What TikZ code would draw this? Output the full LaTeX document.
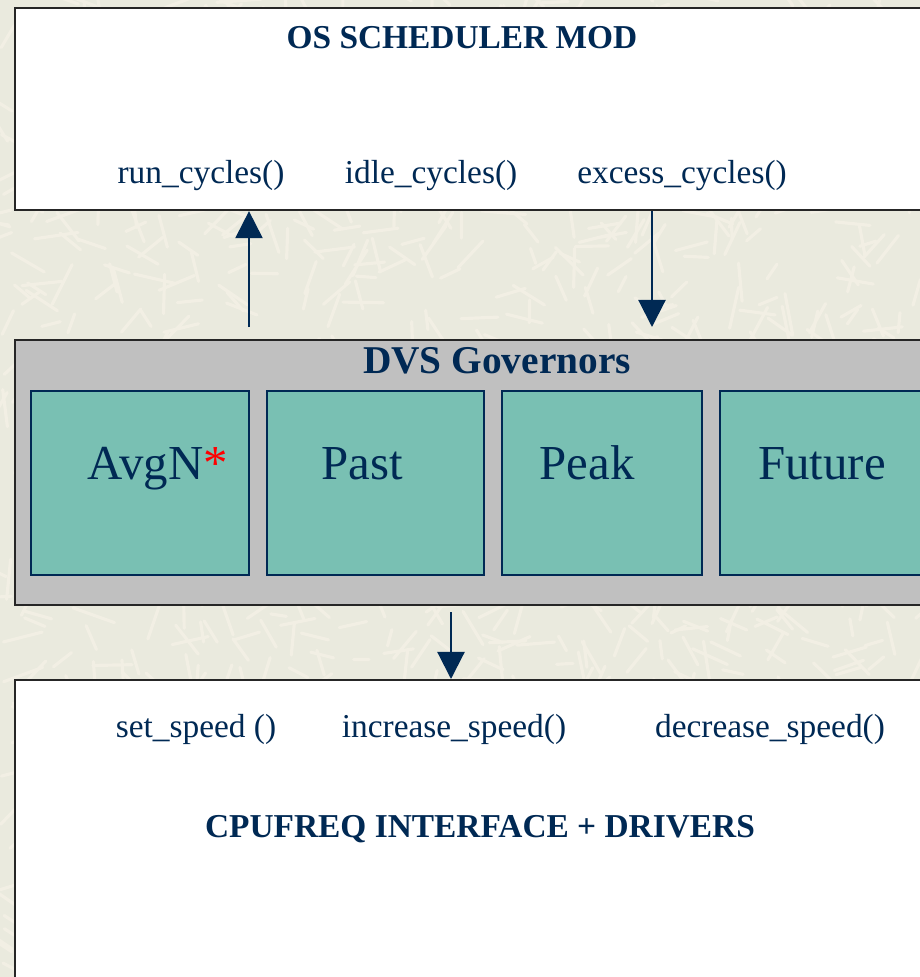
\documentclass[tikz,border=0pt]{standalone}
\usepackage{fontspec}
\setmainfont{Liberation Serif}
\usetikzlibrary{arrows.meta,positioning}
\definecolor{navy}{RGB}{0,41,84}
\definecolor{paper}{RGB}{234,234,222}
\definecolor{fibre}{RGB}{242,239,228}
\definecolor{govgray}{RGB}{192,192,192}
\definecolor{govteal}{RGB}{121,192,179}

\begin{document}
\begin{tikzpicture}[
            x=0.1mm, y=-0.1mm,
            grain/.style={draw=fibre, line width=0.9pt, line cap=round},
            layer/.style={draw=black!85, line width=0.6pt, fill=white, anchor=north west,
                inner sep=0, minimum width=92.6mm},
            govbox/.style={draw=navy, line width=0.6pt, fill=govteal, anchor=north west,
                inner sep=0, minimum height=18.4mm},
            call/.style={font=\fontsize{9.5}{11}\selectfont, text=navy, anchor=base, inner sep=0},
            title/.style={font=\fontsize{9.5}{11}\selectfont\bfseries, text=navy, anchor=base, inner sep=0},
            govname/.style={font=\fontsize{13.9}{16}\selectfont, text=navy, anchor=base, inner sep=0},
            flow/.style={draw=navy, line width=0.6pt, -{Triangle[width=7.7pt,length=7.7pt]}}]
            \useasboundingbox[fill=paper] (0,0) rectangle (920,977);
            % paper texture
            \pgfmathsetseed{11}
            \foreach \k in {1,...,1400}
                \draw[grain] (rnd*920, rnd*977) -- ++(rand*180:15+rnd*30);

            % layers
            \node[layer, minimum height=20.2mm] (sched) at (14,7) {};
            \node[layer, fill=govgray, minimum height=26.5mm] (dvs) at (14,339) {};
            \node[layer, minimum height=31mm] (cpufreq) at (14,679) {};

            % governors
            \node[govbox, minimum width=21.8mm] (avgn) at (30,390) {};
            \node[govbox, minimum width=21.7mm, right=1.6mm of avgn] (past) {};
            \node[govbox, minimum width=20.0mm, right=1.6mm of past] (peak) {};
            \node[govbox, minimum width=22.5mm, right=1.6mm of peak] (future) {};

            % texts
            \node[title] (schedname) at (462,48) {OS SCHEDULER MOD};
            \node[call] (run) at (201,183) {run\_cycles()};
            \node[call] (idle) at (431,183) {idle\_cycles()};
            \node[call] (excess) at (682,183) {excess\_cycles()};
            \node[title, font=\fontsize{11.2}{13}\selectfont\bfseries] (dvsname) at (497,373) {DVS Governors};
            \node[govname] (avgnname) at (158,479) {AvgN\textcolor{red}{*}};
            \node[govname] (pastname) at (362,479) {Past};
            \node[govname] (peakname) at (587,479) {Peak};
            \node[govname] (futurename) at (822,479) {Future};
            \node[call] (setsp) at (196,737) {set\_speed ()};
            \node[call] (incsp) at (454,737) {increase\_speed()};
            \node[call] (decsp) at (770,737) {decrease\_speed()};
            \node[title] (cpuname) at (480,837) {CPUFREQ INTERFACE + DRIVERS};

            % connectors
            \coordinate (upfoot) at (249,327);
            \coordinate (downtip) at (652,327);
            \coordinate (setfoot) at (451,612);
            \draw[flow] (upfoot) -- (upfoot |- sched.south);
            \draw[flow] (downtip |- sched.south) -- (downtip);
            \draw[flow] (setfoot) -- (setfoot |- cpufreq.north);
        \end{tikzpicture}
\end{document}
